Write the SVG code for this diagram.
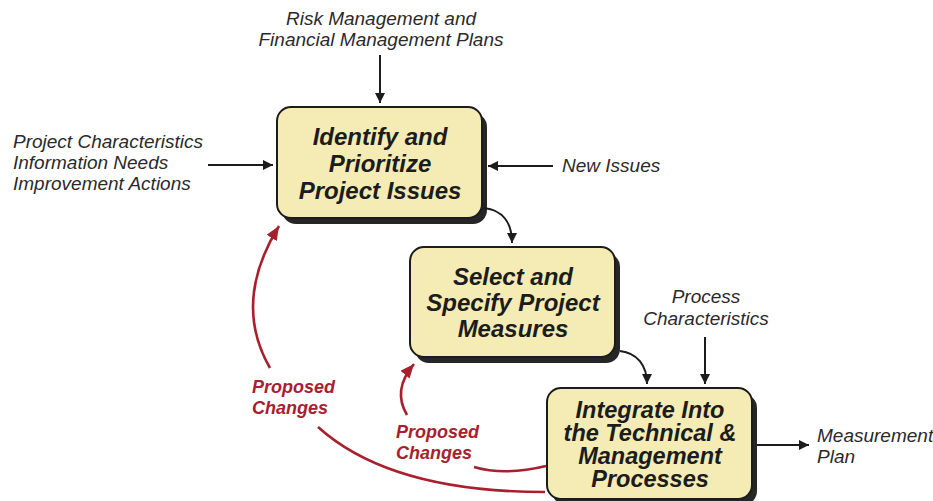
<svg xmlns="http://www.w3.org/2000/svg" width="933" height="501" viewBox="0 0 933 501">
<style>
.box{fill:#f4ecb4;stroke:#1c1c1c;stroke-width:2}
.shadow{fill:#262626}
.bt{font-family:"Liberation Sans",Arial,sans-serif;font-weight:bold;font-style:italic;font-size:24px;fill:#1c1c1c;text-anchor:middle}
.bt3{font-size:23.5px}
.lbl{font-family:"Liberation Sans",Arial,sans-serif;font-style:italic;font-size:19px;fill:#2a2a2a}
.red{font-family:"Liberation Sans",Arial,sans-serif;font-weight:bold;font-style:italic;font-size:18px;fill:#a8202e}
.c{fill:none;stroke:#1c1c1c;stroke-width:2}
.r{fill:none;stroke:#a8202e;stroke-width:2.6}
</style>
<defs>
<marker id="ah" viewBox="0 0 10 10" refX="10" refY="5" markerWidth="10" markerHeight="10" markerUnits="userSpaceOnUse" orient="auto">
<path d="M0,0 L10,5 L0,10 z" fill="#1c1c1c"/>
</marker>
<marker id="rh" viewBox="0 0 14 12" refX="14" refY="6" markerWidth="14" markerHeight="12" markerUnits="userSpaceOnUse" orient="auto">
<path d="M0,0 L14,6 L0,12 z" fill="#a8202e"/>
</marker>
</defs>
<g id="node-identify">
<rect class="shadow" x="282" y="113" width="205" height="111" rx="14"/>
<rect class="box" x="277" y="107" width="205" height="111" rx="14"/>
<text class="bt" x="380" y="145">Identify and</text>
<text class="bt" x="380" y="172">Prioritize</text>
<text class="bt" x="380" y="199">Project Issues</text>
</g>
<g id="node-select">
<rect class="shadow" x="415" y="253" width="205" height="110" rx="14"/>
<rect class="box" x="410" y="247" width="205" height="110" rx="14"/>
<text class="bt" x="513" y="285">Select and</text>
<text class="bt" x="513" y="311">Specify Project</text>
<text class="bt" x="513" y="337">Measures</text>
</g>
<g id="node-integrate">
<rect class="shadow" x="552" y="394" width="205" height="111" rx="14"/>
<rect class="box" x="547" y="388" width="205" height="111" rx="14"/>
<text class="bt bt3" x="650" y="418">Integrate Into</text>
<text class="bt bt3" x="650" y="441">the Technical &amp;</text>
<text class="bt bt3" x="650" y="464">Management</text>
<text class="bt bt3" x="650" y="487">Processes</text>
</g>
<g id="labels">
<text class="lbl" x="381" y="25" text-anchor="middle">Risk Management and</text>
<text class="lbl" x="381" y="46" text-anchor="middle">Financial Management Plans</text>
<text class="lbl" x="13" y="148">Project Characteristics</text>
<text class="lbl" x="13" y="169">Information Needs</text>
<text class="lbl" x="13" y="190">Improvement Actions</text>
<text class="lbl" x="562" y="172">New Issues</text>
<text class="lbl" x="706" y="303" text-anchor="middle">Process</text>
<text class="lbl" x="706" y="325" text-anchor="middle">Characteristics</text>
<text class="lbl" x="817" y="442">Measurement</text>
<text class="lbl" x="817" y="463">Plan</text>
<text class="red" x="252" y="393">Proposed</text>
<text class="red" x="252" y="414">Changes</text>
<text class="red" x="396" y="438">Proposed</text>
<text class="red" x="396" y="459">Changes</text>
</g>
<g id="connectors">
<line class="c" x1="380" y1="55" x2="380" y2="103" marker-end="url(#ah)"/>
<line class="c" x1="208" y1="165" x2="273" y2="165" marker-end="url(#ah)"/>
<line class="c" x1="553" y1="166" x2="488" y2="166" marker-end="url(#ah)"/>
<path class="c" d="M484,208 C502,210 512,222 512,243" marker-end="url(#ah)"/>
<path class="c" d="M620,351 C637,353 647,365 647,384" marker-end="url(#ah)"/>
<line class="c" x1="705" y1="337" x2="705" y2="384" marker-end="url(#ah)"/>
<line class="c" x1="757" y1="445" x2="809" y2="445" marker-end="url(#ah)"/>
<path class="r" d="M270,368 Q232,302 279,226" marker-end="url(#rh)"/>
<path class="r" d="M318,427 Q390,492 545,492"/>
<path class="r" d="M407,415 Q392,390 414,364" marker-end="url(#rh)"/>
<path class="r" d="M474,467 Q505,476 546,466"/>
</g>
</svg>
